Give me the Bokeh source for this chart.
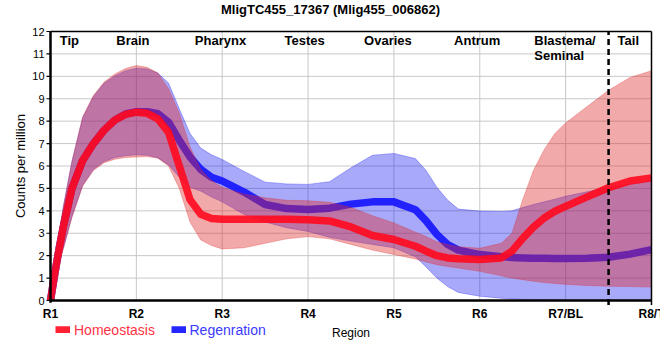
import math
from bokeh.plotting import figure
from bokeh.models import Range1d, Legend, LegendItem
from bokeh.core.properties import value
from bokeh.embed import file_html
from bokeh.resources import INLINE

FONT = "Liberation Sans"

# ---- data ----
region_x = [1, 1.05, 1.1, 1.15, 1.25, 1.375, 1.5, 1.625, 1.75, 1.875,
            2, 2.125, 2.25, 2.375, 2.5, 2.625, 2.75, 2.875, 3, 3.25,
            3.5, 3.75, 4, 4.25, 4.5, 4.75, 5, 5.25, 5.375, 5.5,
            5.625, 5.75, 6, 6.25, 6.375, 6.5, 6.625, 6.75, 6.875, 7,
            7.25, 7.5, 7.75, 8]

homeo_mean = [0, 1.2, 2.3, 3.3, 5.0, 6.25, 7.0, 7.6, 8.05, 8.3,
              8.4, 8.35, 8.1, 7.5, 6.0, 4.5, 3.85, 3.66, 3.62, 3.62,
              3.62, 3.62, 3.6, 3.55, 3.28, 2.9, 2.72, 2.42, 2.2, 2.0,
              1.9, 1.86, 1.83, 1.9, 2.2, 2.77, 3.27, 3.68, 3.98, 4.2,
              4.62, 5.03, 5.33, 5.47]
homeo_hi = [0, 1.5, 3.0, 4.2, 6.2, 8.2, 9.15, 9.75, 10.1, 10.35,
            10.48, 10.4, 10.15, 9.45, 8.35, 6.85, 5.85, 5.35, 5.05, 4.75,
            4.58, 4.47, 4.45, 4.38, 4.15, 3.78, 3.46, 3.05, 2.85, 2.62,
            2.5, 2.4, 2.33, 2.55, 3.0, 4.5, 5.8, 6.73, 7.45, 7.92,
            8.65, 9.38, 9.95, 10.25]
homeo_lo = [0, 0.9, 1.7, 2.3, 3.7, 5.1, 5.8, 6.15, 6.3, 6.38,
            6.4, 6.42, 6.35, 6.0, 5.0, 3.5, 2.7, 2.45, 2.3, 2.35,
            2.55, 2.75, 2.85, 2.75, 2.5, 2.25, 2.05, 1.85, 1.72, 1.6,
            1.52, 1.45, 1.3, 1.1, 1.0, 0.93, 0.86, 0.8, 0.76, 0.72,
            0.67, 0.64, 0.62, 0.6]

regen_mean = [0, 1.2, 2.3, 3.3, 5.0, 6.25, 7.0, 7.6, 8.05, 8.32,
              8.42, 8.42, 8.33, 7.95, 7.15, 6.4, 5.85, 5.5, 5.33, 4.85,
              4.28, 4.1, 4.06, 4.12, 4.3, 4.4, 4.4, 4.05, 3.55, 2.95,
              2.5, 2.25, 2.05, 1.95, 1.92, 1.9, 1.89, 1.88, 1.87, 1.87,
              1.88, 1.93, 2.07, 2.27]
regen_hi = [0, 1.5, 3.0, 4.2, 6.2, 8.15, 9.1, 9.7, 10.02, 10.25,
            10.36, 10.33, 10.15, 9.7, 8.55, 7.45, 6.8, 6.5, 6.29, 5.77,
            5.28, 5.2, 5.18, 5.3, 5.92, 6.48, 6.56, 6.33, 5.8, 5.05,
            4.48, 4.08, 3.99, 3.97, 4.0, 4.15, 4.28, 4.4, 4.52, 4.65,
            4.85, 5.05, 5.2, 5.32]
regen_lo = [0, 0.9, 1.75, 2.35, 3.75, 5.15, 5.85, 6.2, 6.38, 6.46,
            6.5, 6.48, 6.37, 6.05, 5.5, 5.05, 4.88, 4.62, 4.4, 3.85,
            3.5, 3.25, 3.08, 2.82, 2.65, 2.5, 2.35, 1.95, 1.5, 1.0,
            0.62, 0.36, 0.19, 0.1, 0.07, 0.05, 0.03, 0.02, 0.01, 0.0,
            0.0, 0.0, 0.0, 0.0]

tick_positions = [1, 2, 3, 4, 5, 6, 7, 8]
tick_labels = ["R1", "R2", "R3", "R4", "R5", "R6", "R7/BL", "R8/T"]
y_ticks = list(range(0, 13))
y_tick_labels = [str(t) for t in y_ticks]

region_names = ["Tip", "Brain", "Pharynx", "Testes", "Ovaries", "Antrum", "Tail"]
region_label_x = [1.22, 1.96, 2.98, 3.96, 4.93, 5.97, 7.73]
blastema_lines = ["Blastema/", "Seminal"]
series_names = ["Homeostasis", "Regenration"]
title_text = "MligTC455_17367 (Mlig455_006862)"
x_label = "Region"
y_label = "Counts per million"
boundary_x = 7.5

X0, X1 = 1, 8
Y0, Y1 = 0, 12

# ---- styling ----
RED_BAND = "#df2828"
BLUE_BAND = "#1010f0"
RED_LINE = "#ff0a1e"
BLUE_LINE = "#1a1aff"
GRID = "#c8c8c8"

W, H = 660, 358
FL, FR, FT, FB = 50, 651, 31, 300        # pixel box of the plotting area
sx = (X1 - X0) / (FR - FL)
sy = (Y1 - Y0) / (FB - FT)
x_range = Range1d(X0 - FL * sx, X1 + (W - FR) * sx)
y_range = Range1d(Y0 - (H - FB) * sy, Y1 + FT * sy)

p = figure(width=W, height=H, output_backend="svg", toolbar_location=None,
           x_range=x_range, y_range=y_range,
           min_border_left=0, min_border_right=0, min_border_top=0,
           min_border_bottom=0)
p.title.visible = False
p.xaxis.visible = False
p.yaxis.visible = False
p.xgrid.visible = False
p.ygrid.visible = False
p.outline_line_color = None
p.background_fill_color = "white"
p.border_fill_color = "white"

n_x = len(tick_positions)
n_y = len(y_ticks)

# grid lines
p.segment(x0=tick_positions[1:-1], y0=[Y0] * (n_x - 2), x1=tick_positions[1:-1],
          y1=[Y1] * (n_x - 2), line_color=GRID, line_width=1)
p.segment(x0=[X0] * (n_y - 2), y0=y_ticks[1:-1], x1=[X1] * (n_y - 2),
          y1=y_ticks[1:-1], line_color=GRID, line_width=1)

# bands and lines (order: blue band, blue line, red band, red line)
p.varea(x=region_x, y1=regen_lo, y2=regen_hi, fill_color=BLUE_BAND, fill_alpha=0.36)
p.line(region_x, regen_hi, line_color=BLUE_BAND, line_alpha=0.3, line_width=1)
p.line(region_x, regen_lo, line_color=BLUE_BAND, line_alpha=0.3, line_width=1)
r_regen = p.line(region_x, regen_mean, line_color=BLUE_LINE, line_width=7.5,
                 line_alpha=0.95, line_join="round")
p.varea(x=region_x, y1=homeo_lo, y2=homeo_hi, fill_color=RED_BAND, fill_alpha=0.4)
p.line(region_x, homeo_hi, line_color=RED_BAND, line_alpha=0.3, line_width=1)
p.line(region_x, homeo_lo, line_color=RED_BAND, line_alpha=0.3, line_width=1)
r_homeo = p.line(region_x, homeo_mean, line_color=RED_LINE, line_width=7.5,
                 line_alpha=0.9, line_join="round")

# frame: axes lines, y ticks, top and right borders, boundary dashed line
p.segment(x0=[X0], y0=[Y0], x1=[X1], y1=[Y0], line_color="black", line_width=2.5)
p.segment(x0=[X0], y0=[Y0 - 0.1], x1=[X0], y1=[Y1], line_color="black",
          line_width=2.5)
p.segment(x0=[X0 - 4 * sx] * n_y, y0=y_ticks, x1=[X0] * n_y, y1=y_ticks,
          line_color="black", line_width=1.2)
p.segment(x0=[X0, X1], y0=[Y1, Y0 - 0.2], x1=[X1, X1], y1=[Y1, Y1],
          line_color="black", line_width=1.5)
p.segment(x0=[boundary_x], y0=[Y0 - 0.2], x1=[boundary_x], y1=[Y1],
          line_color="black", line_width=2.5, line_dash="6 4")

# region labels
p.text(x=region_label_x, y=[11.62] * len(region_names), text=region_names,
       text_align="center", text_baseline="middle", text_font=value(FONT),
       text_font_size="13px", text_font_style="bold", text_color="black")
p.text(x=[6.635, 6.635], y=[11.62, 10.92], text=blastema_lines,
       text_align="left", text_baseline="middle", text_font=value(FONT),
       text_font_size="13px", text_font_style="bold", text_color="black")

# title
p.text(x=[X0 + (330 - FL) * sx], y=[Y1 + (FT - 8.5) * sy], text=[title_text],
       text_align="center", text_baseline="middle", text_font=value(FONT),
       text_font_size="13px", text_font_style="bold", text_color="black")

# x tick labels and axis label
p.text(x=tick_positions, y=[Y0 - 13 * sy] * n_x, text=tick_labels,
       text_align="center", text_baseline="middle", text_font=value(FONT),
       text_font_size="12px", text_font_style="bold", text_color="black")
p.text(x=[(X0 + X1) / 2], y=[Y0 - 32 * sy], text=[x_label],
       text_align="center", text_baseline="middle", text_font=value(FONT),
       text_font_size="12px", text_color="black")

# y tick labels and axis label
p.text(x=[X0 - 6 * sx] * n_y, y=y_ticks, text=y_tick_labels,
       text_align="right", text_baseline="middle", text_font=value(FONT),
       text_font_size="11px", text_color="black")
p.text(x=[X0 - 30 * sx], y=[(Y0 + Y1) / 2], text=[y_label], angle=math.pi / 2,
       text_align="center", text_baseline="middle", text_font=value(FONT),
       text_font_size="13px", text_color="black")


# legends (separate so each label keeps its own colour)
def make_legend(label, rend, color, loc):
    return Legend(items=[LegendItem(label=label, renderers=[rend])], location=loc,
                  orientation="horizontal", background_fill_alpha=0,
                  border_line_alpha=0, padding=0, margin=0, glyph_width=15,
                  glyph_height=7, label_standoff=4, label_height=14,
                  label_text_font=FONT, label_text_font_size="14px",
                  label_text_color=color)


p.add_layout(make_legend(series_names[0], r_homeo, "#ff3344", (55, H - 337.5)))
p.add_layout(make_legend(series_names[1], r_regen, "#3a3aff", (170.5, H - 337.5)))

open("out.html", "w").write(file_html(p, INLINE))
